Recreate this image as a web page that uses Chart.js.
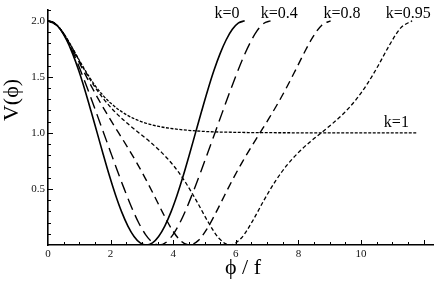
<!DOCTYPE html>
<html>
<head>
<meta charset="utf-8">
<script src="https://cdn.jsdelivr.net/npm/chart.js@4.4.1/dist/chart.umd.min.js"></script>
<style>
  html, body { margin: 0; padding: 0; background: #fff; }
  #wrap { width: 436px; height: 282px; }
</style>
</head>
<body>
<div id="wrap"><canvas id="potential" width="436" height="282"></canvas></div>
<script>
// ---- values ----
const phiK0 = [0, 0.196, 0.393, 0.589, 0.785, 0.982, 1.178, 1.374, 1.571, 1.767, 1.963, 2.160, 2.356, 2.553, 2.749, 2.945, 3.142,
               3.338, 3.534, 3.731, 3.927, 4.123, 4.320, 4.516, 4.712, 4.909, 5.105, 5.301, 5.498, 5.694, 5.890, 6.087, 6.283];
const vK0   = [2, 1.981, 1.924, 1.831, 1.707, 1.556, 1.383, 1.195, 1, 0.805, 0.617, 0.444, 0.293, 0.169, 0.076, 0.019, 0,
               0.019, 0.076, 0.169, 0.293, 0.444, 0.617, 0.805, 1, 1.195, 1.383, 1.556, 1.707, 1.831, 1.924, 1.981, 2];

const phiK04 = [0, 0.222, 0.444, 0.667, 0.889, 1.111, 1.333, 1.555, 1.778, 2.000, 2.222, 2.444, 2.666, 2.888, 3.111, 3.333, 3.555,
                3.777, 3.999, 4.222, 4.444, 4.666, 4.888, 5.110, 5.333, 5.555, 5.777, 5.999, 6.221, 6.444, 6.666, 6.888, 7.110];
const vK04   = [2, 1.976, 1.905, 1.797, 1.661, 1.506, 1.342, 1.172, 1, 0.828, 0.658, 0.494, 0.339, 0.203, 0.095, 0.025, 0,
                0.025, 0.095, 0.203, 0.339, 0.494, 0.658, 0.828, 1, 1.172, 1.342, 1.506, 1.661, 1.797, 1.905, 1.976, 2];

const phiK08 = [0, 0.282, 0.564, 0.846, 1.129, 1.411, 1.693, 1.975, 2.257, 2.539, 2.822, 3.104, 3.386, 3.668, 3.950, 4.232, 4.514,
                4.797, 5.079, 5.361, 5.643, 5.925, 6.207, 6.490, 6.772, 7.054, 7.336, 7.618, 7.900, 8.182, 8.465, 8.747, 9.029];
const vK08   = [2, 1.961, 1.857, 1.713, 1.556, 1.403, 1.260, 1.127, 1, 0.873, 0.740, 0.597, 0.444, 0.287, 0.143, 0.039, 0,
                0.039, 0.143, 0.287, 0.444, 0.597, 0.740, 0.873, 1, 1.127, 1.260, 1.403, 1.556, 1.713, 1.857, 1.961, 2];

const phiK095 = [0, 0.364, 0.727, 1.091, 1.454, 1.818, 2.181, 2.545, 2.908, 3.272, 3.635, 3.999, 4.362, 4.726, 5.090, 5.453, 5.817,
                 6.180, 6.544, 6.907, 7.271, 7.634, 7.998, 8.361, 8.725, 9.088, 9.452, 9.816, 10.179, 10.543, 10.906, 11.270, 11.633];
const vK095   = [2, 1.937, 1.782, 1.597, 1.428, 1.288, 1.176, 1.083, 1, 0.917, 0.824, 0.712, 0.572, 0.403, 0.218, 0.063, 0,
                 0.063, 0.218, 0.403, 0.572, 0.712, 0.824, 0.917, 1, 1.083, 1.176, 1.288, 1.428, 1.597, 1.782, 1.937, 2];

const phiK1 = [0, 0.25, 0.5, 0.75, 1, 1.25, 1.5, 1.75, 2, 2.5, 3, 3.5, 4, 5, 6, 7, 8, 10, 11.77];
const vK1   = [2, 1.970, 1.887, 1.772, 1.648, 1.530, 1.425, 1.337, 1.266, 1.163, 1.099, 1.060, 1.037, 1.013, 1.005, 1.002, 1.001, 1.000, 1.000];

const seriesNames = ['k=0', 'k=0.4', 'k=0.8', 'k=0.95', 'k=1'];
const xTickLabels = ['0', '2', '4', '6', '8', '10', '12'];
const yTickLabels = ['0.5', '1.0', '1.5', '2.0'];

// curve labels, placed in data units
const curveLabels = [
    { text: 'k=0',    x: 5.72,  y: 2.065 },
    { text: 'k=0.4',  x: 7.39,  y: 2.065 },
    { text: 'k=0.8',  x: 9.39,  y: 2.065 },
    { text: 'k=0.95', x: 11.51, y: 2.065 },
    { text: 'k=1',    x: 11.13, y: 1.09 }
];

const SERIF = '"Liberation Serif", "DejaVu Serif", serif';

function pts(xs, ys) {
    return xs.map((x, i) => ({ x: x, y: ys[i] }));
}

function line(name, xs, ys, dash, width) {
    return {
        label: name,
        data: pts(xs, ys),
        borderColor: '#000',
        borderWidth: width,
        borderDash: dash,
        pointRadius: 0,
        fill: false,
        cubicInterpolationMode: 'monotone'
    };
}

// inward tick marks + text annotations
const decorations = {
    id: 'decorations',
    afterDraw(chart) {
        const ctx = chart.ctx;
        const xs = chart.scales.x, ys = chart.scales.y;
        const area = chart.chartArea;
        ctx.save();
        ctx.strokeStyle = '#000';
        ctx.lineWidth = 1;
        for (let i = 1; i <= 24; i++) {
            const v = i * 0.5;
            const px = Math.round(xs.getPixelForValue(v)) + 0.5;
            const len = (i % 4 === 0) ? 5 : 3;
            ctx.beginPath();
            ctx.moveTo(px, area.bottom);
            ctx.lineTo(px, area.bottom - len);
            ctx.stroke();
        }
        for (let i = 1; i <= 21; i++) {
            const py = Math.round(ys.getPixelForValue(i / 10)) + 0.5;
            const len = (i % 5 === 0) ? 5 : 3;
            ctx.beginPath();
            ctx.moveTo(area.left, py);
            ctx.lineTo(area.left + len, py);
            ctx.stroke();
        }

        ctx.fillStyle = '#000';
        ctx.textAlign = 'center';
        ctx.textBaseline = 'middle';
        ctx.font = '16px ' + SERIF;
        curveLabels.forEach(l => {
            ctx.fillText(l.text, xs.getPixelForValue(l.x), ys.getPixelForValue(l.y));
        });

        // axis titles (stroked phi, as in the figure)
        ctx.font = '22px ' + SERIF;
        ctx.fillText('\u03d5 / f', 243, 268);
        ctx.translate(12, 100);
        ctx.rotate(-Math.PI / 2);
        ctx.fillText('V(\u03d5)', 0, 0);
        ctx.restore();
    }
};

new Chart(document.getElementById('potential'), {
    type: 'line',
    data: {
        datasets: [
            line(seriesNames[0], phiK0, vK0, [], 1.6),
            line(seriesNames[1], phiK04, vK04, [12, 6], 1.4),
            line(seriesNames[2], phiK08, vK08, [8, 5], 1.4),
            line(seriesNames[3], phiK095, vK095, [4, 2.5], 1.3),
            line(seriesNames[4], phiK1, vK1, [3, 1.5], 1.3)
        ]
    },
    options: {
        responsive: false,
        animation: false,
        devicePixelRatio: 1,
        layout: { padding: { top: 8, right: 3, left: 0, bottom: 0 } },
        plugins: {
            legend: { display: false },
            tooltip: { enabled: false }
        },
        scales: {
            x: {
                type: 'linear',
                min: 0,
                max: 12.3,
                afterFit: s => { s.height = 37; },
                grid: { display: true, drawOnChartArea: false, drawTicks: false },
                border: { color: '#000', width: 1.6 },
                ticks: {
                    stepSize: 0.5,
                    autoSkip: false,
                    maxRotation: 0,
                    padding: 3,
                    color: '#111',
                    font: { family: SERIF, size: 11 },
                    callback: v => {
                        const s = String(Math.round(v * 10) / 10);
                        return xTickLabels.includes(s) ? s : '';
                    }
                }
            },
            y: {
                min: 0,
                max: 2.1,
                afterFit: s => { s.width = 48; },
                grid: { display: true, drawOnChartArea: false, drawTicks: false },
                border: { color: '#000', width: 1.6 },
                ticks: {
                    stepSize: 0.1,
                    autoSkip: false,
                    padding: 3,
                    color: '#111',
                    font: { family: SERIF, size: 11 },
                    callback: v => {
                        const s = (Math.round(v * 10) / 10).toFixed(1);
                        return yTickLabels.includes(s) ? s : '';
                    }
                }
            }
        }
    },
    plugins: [decorations]
});
</script>
</body>
</html>
